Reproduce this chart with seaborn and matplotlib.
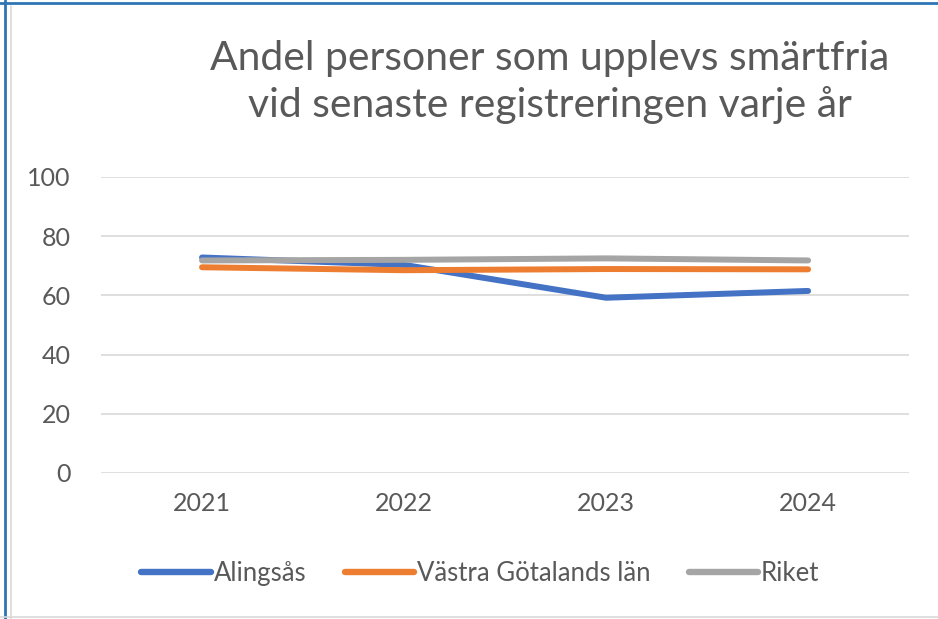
import seaborn as sns
import matplotlib.pyplot as plt
import pandas as pd
from matplotlib.lines import Line2D

# Data
years = ["2021", "2022", "2023", "2024"]
alingsas = [72.8, 70.3, 59.2, 61.5]
vastra_gotaland = [69.5, 68.5, 68.9, 68.8]
riket = [71.8, 72.0, 72.5, 71.8]
series_names = ["Alingsås", "Västra Götalands län", "Riket"]

data = pd.DataFrame({
    "År": years * 3,
    "Andel": alingsas + vastra_gotaland + riket,
    "Område": [n for n in series_names for _ in years],
})

palette = {"Alingsås": "#4472C4", "Västra Götalands län": "#ED7D31", "Riket": "#A5A5A5"}
text_col = "#595959"

sns.set_style("white")
plt.rcParams["font.family"] = ["Lato", "DejaVu Sans"]

fig = plt.figure(figsize=(9.38, 6.19), dpi=100)
ax = fig.add_axes([0.1077, 0.2359, 0.8615, 0.4782])

sns.lineplot(data=data, x="År", y="Andel", hue="Område", palette=palette,
             linewidth=4.3, ax=ax, sort=False, solid_capstyle="round")

ax.set_ylim(0, 100)
ax.set_xlim(-0.5, 3.5)
ax.set_yticks(range(0, 101, 20))
ax.yaxis.grid(True, color="#D9D9D9", linewidth=1.2)
ax.set_axisbelow(True)
for s in ax.spines.values():
    s.set_visible(False)
ax.tick_params(axis="both", length=0, labelsize=18, labelcolor=text_col)
ax.tick_params(axis="y", pad=22)
ax.tick_params(axis="x", pad=14)
ax.set_xlabel("")
ax.set_ylabel("")

fig.text(0.586, 0.868, "Andel personer som upplevs smärtfria\nvid senaste registreringen varje år",
         ha="center", va="center", fontsize=29.4, color=text_col, linespacing=1.3)

leg = ax.legend(loc="center", bbox_to_anchor=(0.512, 0.074), bbox_transform=fig.transFigure,
                ncol=3, frameon=False, fontsize=18.5, handlelength=2.7, handletextpad=0.1,
                columnspacing=1.5, labelcolor=text_col)
for line in leg.get_lines():
    line.set_linewidth(4.6)

# frame lines around the picture
fig.add_artist(Line2D([0, 1], [0.995, 0.995], transform=fig.transFigure, color="#2E75B6", linewidth=2))
fig.add_artist(Line2D([0.0055, 0.0055], [0, 1], transform=fig.transFigure, color="#2E75B6", linewidth=2))
fig.add_artist(Line2D([0.0118, 0.0118], [0, 0.99], transform=fig.transFigure, color="#D9D9D9", linewidth=1.2))
fig.add_artist(Line2D([0, 1], [0.004, 0.004], transform=fig.transFigure, color="#D9D9D9", linewidth=1.2))

plt.savefig("out.png", dpi=100)
